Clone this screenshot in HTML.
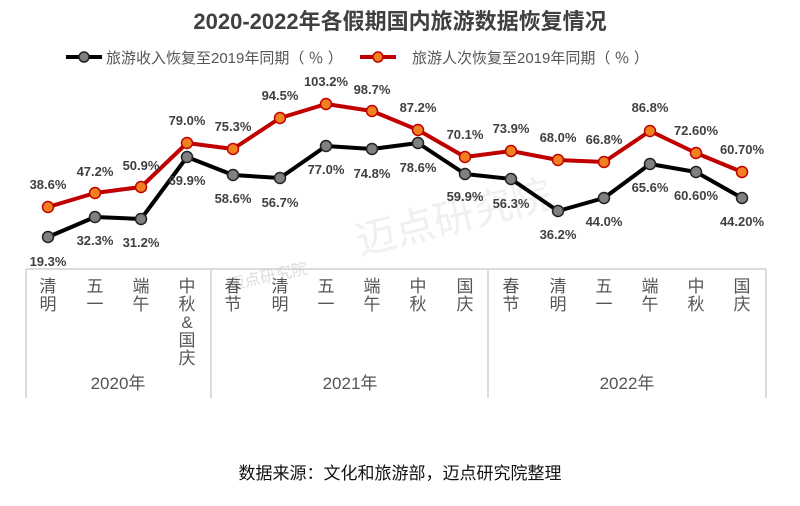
<!DOCTYPE html>
<html><head><meta charset="utf-8"><style>
body{margin:0;background:#fff;width:800px;height:501px;overflow:hidden}
text{font-family:"Liberation Sans","Noto Sans CJK SC",sans-serif}
</style></head><body>
<svg width="800" height="501" viewBox="0 0 800 501" xmlns="http://www.w3.org/2000/svg">
<text x="400" y="29" text-anchor="middle" font-size="22" font-weight="bold" fill="#404040">2020-2022年各假期国内旅游数据恢复情况</text>
<g font-size="15" fill="#555">
<line x1="66" y1="57" x2="102" y2="57" stroke="#000" stroke-width="4"/><circle cx="84" cy="57" r="5" fill="#808080" stroke="#222" stroke-width="1.5"/>
<text x="106" y="63">旅游收入恢复至2019年同期（ ％ ）</text>
<line x1="360" y1="57" x2="396" y2="57" stroke="#c00000" stroke-width="4"/><circle cx="378" cy="57" r="5" fill="#f08020" stroke="#c00000" stroke-width="1.5"/>
<text x="412" y="63">旅游人次恢复至2019年同期（ ％ ）</text>
</g>
<text x="360" y="255" font-size="40" fill="#f0f0f0" transform="rotate(-14 360 255)">迈点研究院</text>
<text x="230" y="290" font-size="16" fill="#ddd" transform="rotate(-12 230 290)">迈点研究院</text>
<g stroke="#d0d0d0" stroke-width="1.5" fill="none">
<line x1="26" y1="269" x2="766" y2="269"/>
<line x1="26" y1="269" x2="26" y2="398"/><line x1="211" y1="269" x2="211" y2="398"/>
<line x1="488" y1="269" x2="488" y2="398"/><line x1="766" y1="269" x2="766" y2="398"/>
</g>
<g font-size="17" fill="#555" text-anchor="middle">
<text x="48" y="292">清</text><text x="48" y="310">明</text>
<text x="95" y="292">五</text><text x="95" y="310">一</text>
<text x="141" y="292">端</text><text x="141" y="310">午</text>
<text x="187" y="292">中</text><text x="187" y="310">秋</text><text x="187" y="328">&amp;</text><text x="187" y="346">国</text><text x="187" y="364">庆</text>
<text x="233" y="292">春</text><text x="233" y="310">节</text>
<text x="280" y="292">清</text><text x="280" y="310">明</text>
<text x="326" y="292">五</text><text x="326" y="310">一</text>
<text x="372" y="292">端</text><text x="372" y="310">午</text>
<text x="418" y="292">中</text><text x="418" y="310">秋</text>
<text x="465" y="292">国</text><text x="465" y="310">庆</text>
<text x="511" y="292">春</text><text x="511" y="310">节</text>
<text x="558" y="292">清</text><text x="558" y="310">明</text>
<text x="604" y="292">五</text><text x="604" y="310">一</text>
<text x="650" y="292">端</text><text x="650" y="310">午</text>
<text x="696" y="292">中</text><text x="696" y="310">秋</text>
<text x="742" y="292">国</text><text x="742" y="310">庆</text>
<text x="118" y="389">2020年</text><text x="350" y="389">2021年</text><text x="627" y="389">2022年</text>
</g>
<polyline fill="none" stroke="#c00000" stroke-width="4" stroke-linejoin="round" points="48,207 95,193 141,187 187,143 233,149 280,118 326,104 372,111 418,130 465,157 511,151 558,160 604,162 650,131 696,153 742,172"/>
<polyline fill="none" stroke="#000" stroke-width="4" stroke-linejoin="round" points="48,237 95,217 141,219 187,157 233,175 280,178 326,146 372,149 418,143 465,174 511,179 558,211 604,198 650,164 696,172 742,198"/>
<g fill="#f08020" stroke="#c00000" stroke-width="1.5">
<circle cx="48" cy="207" r="5.5"/><circle cx="95" cy="193" r="5.5"/><circle cx="141" cy="187" r="5.5"/><circle cx="187" cy="143" r="5.5"/><circle cx="233" cy="149" r="5.5"/><circle cx="280" cy="118" r="5.5"/><circle cx="326" cy="104" r="5.5"/><circle cx="372" cy="111" r="5.5"/><circle cx="418" cy="130" r="5.5"/><circle cx="465" cy="157" r="5.5"/><circle cx="511" cy="151" r="5.5"/><circle cx="558" cy="160" r="5.5"/><circle cx="604" cy="162" r="5.5"/><circle cx="650" cy="131" r="5.5"/><circle cx="696" cy="153" r="5.5"/><circle cx="742" cy="172" r="5.5"/>
</g>
<g fill="#808080" stroke="#222" stroke-width="1.5">
<circle cx="48" cy="237" r="5.5"/><circle cx="95" cy="217" r="5.5"/><circle cx="141" cy="219" r="5.5"/><circle cx="187" cy="157" r="5.5"/><circle cx="233" cy="175" r="5.5"/><circle cx="280" cy="178" r="5.5"/><circle cx="326" cy="146" r="5.5"/><circle cx="372" cy="149" r="5.5"/><circle cx="418" cy="143" r="5.5"/><circle cx="465" cy="174" r="5.5"/><circle cx="511" cy="179" r="5.5"/><circle cx="558" cy="211" r="5.5"/><circle cx="604" cy="198" r="5.5"/><circle cx="650" cy="164" r="5.5"/><circle cx="696" cy="172" r="5.5"/><circle cx="742" cy="198" r="5.5"/>
</g>
<g font-size="13" font-weight="bold" fill="#404040" text-anchor="middle">
<text x="48" y="189">38.6%</text><text x="95" y="176">47.2%</text><text x="141" y="170">50.9%</text><text x="187" y="125">79.0%</text><text x="233" y="131">75.3%</text><text x="280" y="100">94.5%</text><text x="326" y="86">103.2%</text><text x="372" y="94">98.7%</text><text x="418" y="112">87.2%</text><text x="465" y="139">70.1%</text><text x="511" y="133">73.9%</text><text x="558" y="142">68.0%</text><text x="604" y="144">66.8%</text><text x="650" y="112">86.8%</text><text x="696" y="135">72.60%</text><text x="742" y="154">60.70%</text>
<text x="48" y="266">19.3%</text><text x="95" y="245">32.3%</text><text x="141" y="247">31.2%</text><text x="187" y="185">69.9%</text><text x="233" y="203">58.6%</text><text x="280" y="207">56.7%</text><text x="326" y="174">77.0%</text><text x="372" y="178">74.8%</text><text x="418" y="172">78.6%</text><text x="465" y="201">59.9%</text><text x="511" y="208">56.3%</text><text x="558" y="239">36.2%</text><text x="604" y="226">44.0%</text><text x="650" y="192">65.6%</text><text x="696" y="200">60.60%</text><text x="742" y="226">44.20%</text>
</g>
<text x="400" y="479" text-anchor="middle" font-size="17" fill="#111">数据来源：文化和旅游部，迈点研究院整理</text>
</svg>
</body></html>
